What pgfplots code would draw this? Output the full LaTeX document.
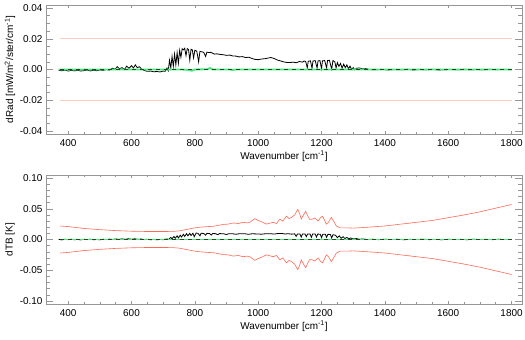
\documentclass[border=0pt]{standalone}
\usepackage{fontspec}
\setmainfont{Liberation Sans}
\usepackage{pgfplots}
\usepackage{pgfplotstable}
\pgfplotsset{compat=1.18}
\definecolor{axgray}{RGB}{150,150,150}
\definecolor{redc}{RGB}{255,105,85}
\definecolor{pinkc}{RGB}{250,205,195}
\definecolor{greenc}{RGB}{70,235,120}
\definecolor{dgreen}{RGB}{20,80,35}

\pgfplotstableread{
x y
370 -0.0005
380 -0.0008
390 -0.0004
400 -0.0010
410 -0.0006
420 -0.0009
430 -0.0005
440 -0.0010
450 -0.0007
460 -0.0004
470 -0.0009
480 -0.0005
490 -0.0008
500 -0.0003
510 -0.0006
520 0.0000
530 -0.0004
540 0.0008
548 0.0002
555 0.0018
562 0.0005
570 0.0012
578 0.0000
585 0.0022
592 0.0008
600 0.0025
606 0.0010
612 0.0030
618 0.0012
625 0.0018
632 0.0002
640 -0.0006
650 -0.0012
660 -0.0010
670 -0.0015
680 -0.0013
690 -0.0016
700 -0.0010
706 -0.0012
712 0.0010
716 -0.0008
720 0.0060
724 0.0010
728 0.0085
732 0.0020
736 0.0100
740 0.0030
744 0.0110
748 0.0040
752 0.0125
756 0.0080
760 0.0135
764 0.0128
768 0.0138
772 0.0090
776 0.0136
780 0.0130
784 0.0060
788 0.0132
792 0.0128
796 0.0075
800 0.0125
806 0.0120
812 0.0050
816 0.0118
822 0.0115
828 0.0112
834 0.0085
838 0.0113
845 0.0110
850 0.0112
856 0.0106
862 0.0100
870 0.0102
880 0.0098
890 0.0096
900 0.0092
910 0.0094
920 0.0088
930 0.0087
940 0.0082
950 0.0084
960 0.0078
970 0.0080
980 0.0072
990 0.0066
1000 0.0064
1010 0.0068
1020 0.0070
1030 0.0074
1040 0.0078
1050 0.0072
1060 0.0062
1070 0.0056
1080 0.0050
1090 0.0046
1100 0.0045
1110 0.0048
1120 0.0044
1130 0.0052
1140 0.0048
1145 0.0055
1150 0.0052
1155 0.0010
1158 0.0054
1165 0.0056
1170 0.0008
1173 0.0055
1180 0.0058
1186 0.0010
1189 0.0056
1195 0.0058
1200 0.0005
1203 0.0057
1210 0.0058
1216 0.0010
1219 0.0058
1225 0.0060
1232 0.0002
1236 0.0058
1242 0.0050
1246 0.0010
1250 0.0045
1255 0.0020
1260 0.0040
1265 0.0008
1270 0.0035
1275 0.0012
1280 0.0030
1285 0.0005
1290 0.0022
1295 0.0000
1300 0.0012
1305 -0.0002
1310 0.0008
1320 0.0010
1330 0.0004
1340 0.0006
1350 0.0000
1370 -0.0002
1390 0.0001
1410 -0.0003
1430 0.0000
1450 -0.0002
1470 0.0001
1490 -0.0003
1510 0.0000
1530 -0.0002
1550 0.0001
1570 -0.0003
1590 -0.0001
1610 0.0000
1630 -0.0002
1650 0.0001
1670 -0.0002
1690 0.0000
1710 -0.0002
1730 0.0001
1750 -0.0001
1770 0.0000
1800 -0.0001
}\dradtable

\pgfplotstableread{
x y
370 0.0000
700 0.0000
760 0.0000
780 -0.0003
790 -0.0008
800 0.0000
840 0.0002
848 0.0010
856 0.0000
910 0.0000
920 -0.0003
930 0.0000
1800 0.0000
}\dradgreen

\pgfplotstableread{
x y
370 0.0002
380 -0.0006
390 0.0004
400 -0.0003
410 0.0005
420 -0.0004
430 0.0002
440 -0.0006
450 0.0003
460 -0.0002
470 0.0005
480 -0.0004
490 0.0001
500 -0.0005
510 0.0004
520 -0.0002
530 0.0006
540 0.0000
550 0.0008
560 0.0002
570 0.0010
580 0.0003
590 0.0012
600 0.0004
610 0.0011
620 0.0002
630 0.0008
640 -0.0002
650 0.0004
660 -0.0004
670 0.0002
680 -0.0005
690 0.0001
700 -0.0003
710 0.0008
718 0.0003
724 0.0035
728 0.0010
734 0.0050
738 0.0020
744 0.0060
748 0.0025
754 0.0070
758 0.0040
764 0.0085
768 0.0050
774 0.0095
778 0.0060
784 0.0100
788 0.0065
794 0.0102
798 0.0045
804 0.0105
810 0.0100
816 0.0060
820 0.0102
828 0.0098
834 0.0070
838 0.0100
846 0.0098
852 0.0072
856 0.0097
866 0.0095
872 0.0078
878 0.0096
890 0.0094
900 0.0080
906 0.0095
920 0.0093
930 0.0085
940 0.0094
960 0.0092
970 0.0084
980 0.0093
1000 0.0090
1010 0.0086
1020 0.0092
1040 0.0094
1050 0.0088
1060 0.0096
1075 0.0098
1085 0.0090
1095 0.0094
1105 0.0087
1115 0.0092
1120 0.0050
1124 0.0090
1132 0.0088
1136 0.0040
1140 0.0090
1148 0.0088
1152 0.0045
1156 0.0090
1164 0.0089
1168 0.0035
1172 0.0089
1180 0.0088
1184 0.0040
1188 0.0088
1196 0.0086
1200 0.0030
1204 0.0086
1212 0.0085
1216 0.0035
1220 0.0084
1228 0.0082
1232 0.0025
1236 0.0078
1244 0.0070
1250 0.0030
1256 0.0060
1262 0.0020
1268 0.0045
1274 0.0015
1280 0.0035
1286 0.0010
1292 0.0025
1300 0.0008
1310 0.0015
1320 0.0004
1330 0.0008
1345 0.0000
1360 0.0003
1380 -0.0002
1400 0.0004
1420 -0.0001
1440 0.0003
1460 -0.0003
1480 0.0002
1500 -0.0001
1520 0.0004
1540 -0.0002
1560 0.0001
1580 -0.0003
1600 0.0003
1620 -0.0001
1640 0.0002
1660 -0.0003
1680 0.0004
1700 -0.0001
1720 0.0002
1740 -0.0002
1760 0.0003
1780 -0.0001
1800 0.0001
}\dtbtable

\pgfplotstableread{
x up lo
375 0.022 -0.022
400 0.021 -0.021
450 0.018 -0.018
500 0.016 -0.016
550 0.0145 -0.0145
600 0.0135 -0.0135
650 0.013 -0.013
700 0.013 -0.013
730 0.0132 -0.0132
750 0.014 -0.014
775 0.0165 -0.0165
800 0.019 -0.019
816 0.020 -0.020
840 0.021 -0.021
858 0.0215 -0.0215
875 0.023 -0.023
889 0.0245 -0.0245
905 0.025 -0.025
921 0.027 -0.027
937 0.026 -0.026
953 0.028 -0.028
965 0.027 -0.027
975 0.0285 -0.0285
989 0.034 -0.034
1000 0.031 -0.031
1010 0.029 -0.029
1026 0.025 -0.025
1040 0.027 -0.027
1047 0.028 -0.028
1058 0.026 -0.026
1068 0.033 -0.033
1078 0.030 -0.030
1089 0.038 -0.038
1098 0.034 -0.034
1105 0.036 -0.036
1115 0.040 -0.040
1125 0.049 -0.049
1131 0.042 -0.042
1136 0.033 -0.033
1143 0.040 -0.040
1150 0.046 -0.046
1156 0.039 -0.039
1162 0.033 -0.033
1170 0.033 -0.033
1178 0.035 -0.035
1185 0.032 -0.032
1189 0.030 -0.030
1196 0.035 -0.035
1203 0.038 -0.038
1209 0.032 -0.032
1215 0.025 -0.025
1222 0.028 -0.028
1231 0.036 -0.036
1238 0.030 -0.030
1247 0.022 -0.022
1258 0.019 -0.019
1280 0.019 -0.019
1300 0.0185 -0.0185
1331 0.0195 -0.0195
1360 0.0205 -0.0205
1400 0.022 -0.022
1450 0.025 -0.025
1500 0.028 -0.028
1550 0.031 -0.031
1600 0.0355 -0.0355
1650 0.040 -0.040
1700 0.045 -0.045
1750 0.051 -0.051
1800 0.057 -0.057
}\uncert

\pgfplotsset{myaxis/.style={
  scale only axis, width=476bp, height=129bp,
  xmin=330, xmax=1833,
  xtick={400,600,...,1800}, minor x tick num=3,
  axis line style={axgray, line width=0.6pt},
  tick align=inside,
  xtick style={axgray, line width=0.5pt, /pgfplots/major tick length=3bp, /pgfplots/minor tick length=1.5bp},
  ytick style={axgray, line width=0.5pt, /pgfplots/major tick length=7bp, /pgfplots/minor tick length=4bp},
  tick label style={font=\fontsize{10}{12}\selectfont, black},
  /pgf/number format/assume math mode=true,
  xticklabel style={/pgf/number format/1000 sep={}, yshift=-2bp},
  yticklabel style={/pgf/number format/.cd, fixed, fixed zerofill, precision=2},
  scaled y ticks=false,
  every axis x label/.style={at={(axis description cs:0.5,-0.1705)}, anchor=center, font=\fontsize{10}{12}\selectfont},
  every axis y label/.style={at={(axis description cs:-0.0756,0.5)}, rotate=90, anchor=center, font=\fontsize{10}{12}\selectfont},
  xlabel={Wavenumber [cm\textsuperscript{-1}]},
  clip=true,
}}

\begin{document}
\begin{tikzpicture}
\path[use as bounding box] (0,0) rectangle (525bp,340bp);
\begin{axis}[myaxis, at={(46bp,206bp)}, anchor=south west,
  ymin=-0.042, ymax=0.042, ytick={-0.04,-0.02,0,0.02,0.04}, minor y tick num=3,
  ylabel={dRad [mW/m\textsuperscript{2}/ster/cm\textsuperscript{-1}]}]
\addplot[pinkc, line width=0.7pt] coordinates {(375,0.02) (1800,0.02)};
\addplot[pinkc, line width=0.7pt] coordinates {(375,-0.02) (1800,-0.02)};
\addplot[black, line width=0.8pt] table[x=x,y=y] {\dradtable};
\addplot[greenc, line width=1.9pt] table[x=x,y=y] {\dradgreen};
\addplot[dgreen, line width=0.5pt, dash pattern=on 4bp off 4bp] coordinates {(375,0) (1800,0)};
\end{axis}
\begin{axis}[myaxis, at={(46bp,36bp)}, anchor=south west,
  ymin=-0.105, ymax=0.105, ytick={-0.1,-0.05,0,0.05,0.1}, minor y tick num=4,
  ylabel={dTB [K]}]
\addplot[redc, line width=0.6pt] table[x=x,y=up] {\uncert};
\addplot[redc, line width=0.6pt] table[x=x,y=lo] {\uncert};
\addplot[black, line width=0.8pt] table[x=x,y=y] {\dtbtable};
\addplot[greenc, line width=1.9pt] coordinates {(375,0) (1800,0)};
\addplot[dgreen, line width=0.5pt, dash pattern=on 4bp off 4bp] coordinates {(375,0) (1800,0)};
\end{axis}
\end{tikzpicture}
\end{document}
